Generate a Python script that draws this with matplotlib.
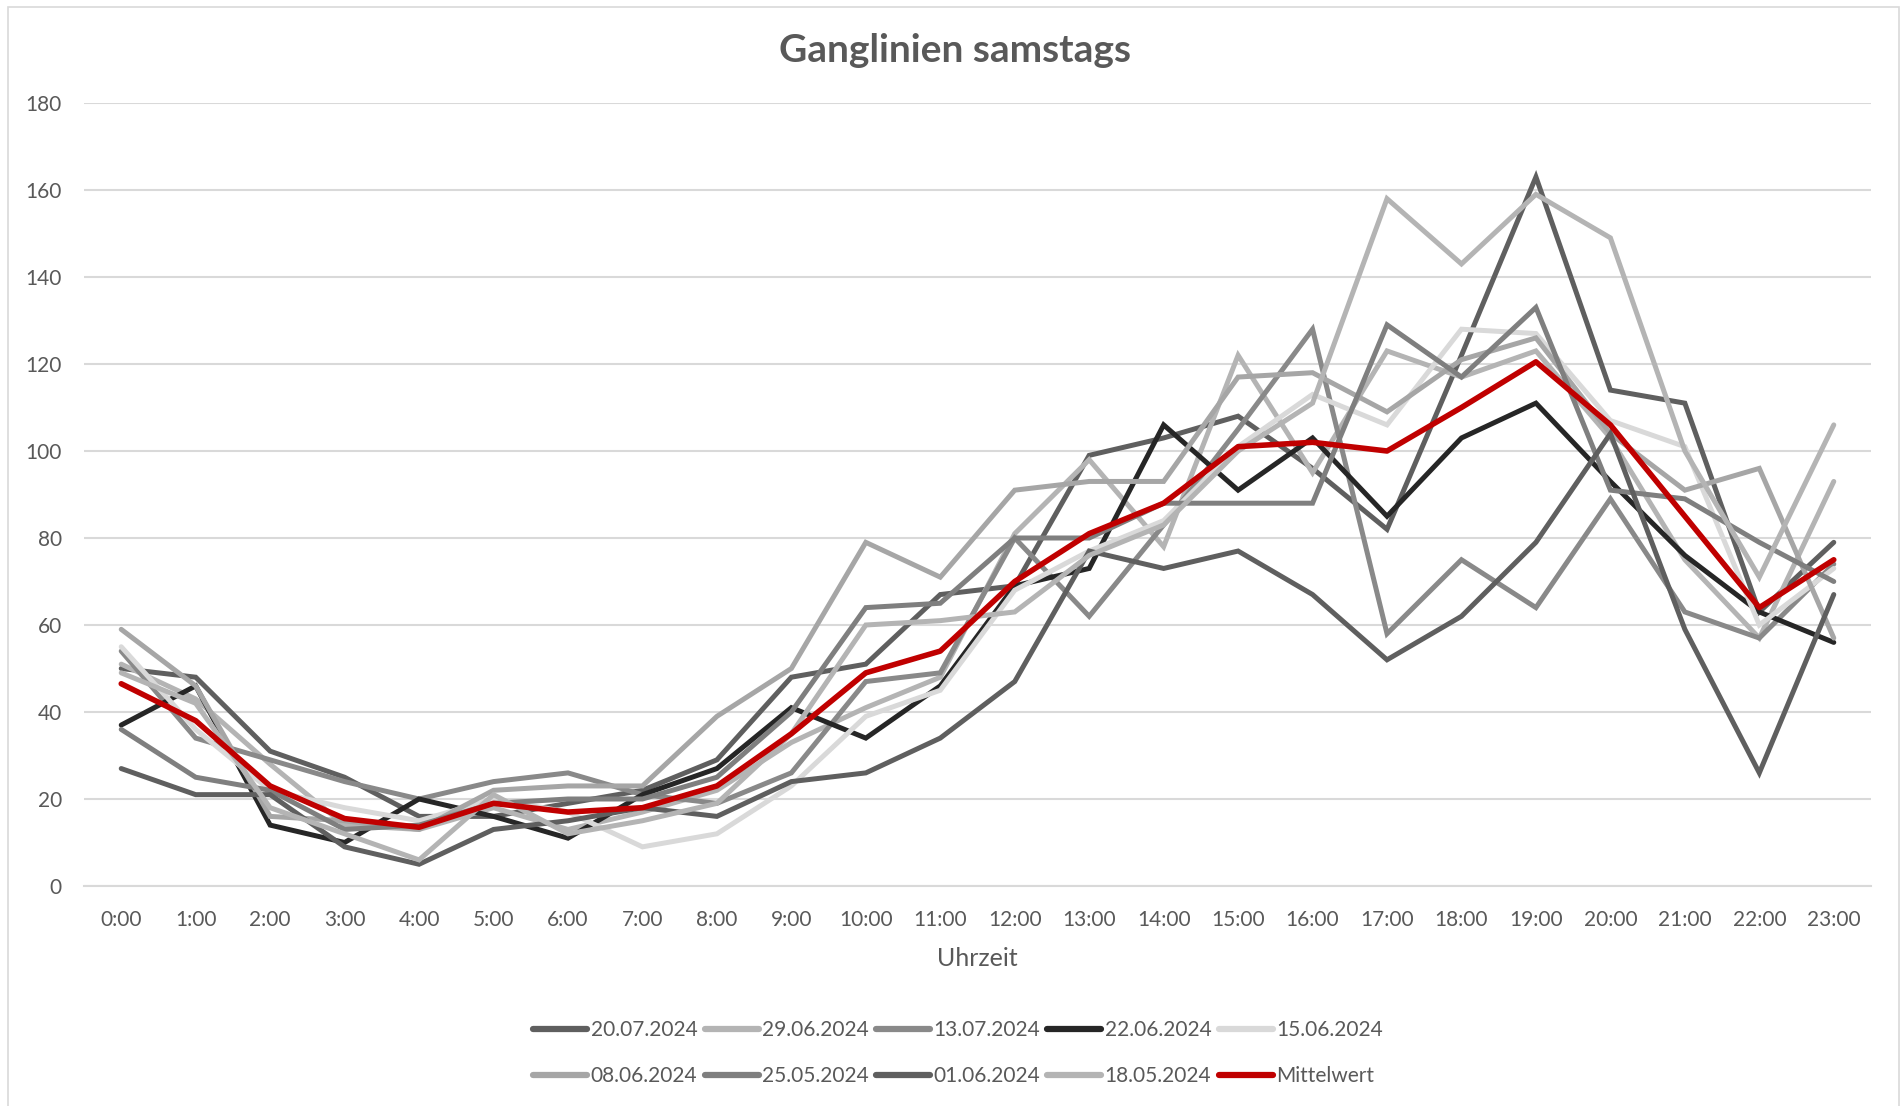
import matplotlib
matplotlib.use("Agg")
import matplotlib.pyplot as plt
from matplotlib.patches import Rectangle

# Stunden 0:00 .. 23:00
hours = [f"{h}:00" for h in range(24)]

s_20_07 = [50, 48, 31, 25, 16, 16, 19, 22, 29, 48, 51, 67, 69, 99, 103, 108, 96, 82, 122, 163, 114, 111, 63, 79]
s_29_06 = [51, 43, 28, 14, 13, 18, 13, 17, 22, 33, 41, 48, 81, 98, 78, 122, 95, 123, 117, 123, 103, 75, 57, 93]
s_13_07 = [54, 34, 29, 24, 20, 24, 26, 21, 19, 26, 47, 49, 80, 62, 83, 105, 128, 58, 75, 64, 89, 63, 57, 74]
s_22_06 = [37, 46, 14, 10, 20, 16, 11, 21, 27, 41, 34, 46, 69, 73, 106, 91, 103, 85, 103, 111, 93, 76, 63, 56]
s_15_06 = [55, 36, 22, 18, 15, 20, 17, 9, 12, 23, 39, 45, 68, 77, 84, 101, 113, 106, 128, 127, 107, 101, 60, 73]
s_08_06 = [59, 46, 16, 15, 13, 22, 23, 23, 39, 50, 79, 71, 91, 93, 93, 117, 118, 109, 121, 126, 104, 91, 96, 57]
s_25_05 = [36, 25, 22, 13, 14, 19, 20, 20, 25, 40, 64, 65, 80, 80, 88, 88, 88, 129, 117, 133, 91, 89, 79, 70]
s_01_06 = [27, 21, 21, 9, 5, 13, 15, 18, 16, 24, 26, 34, 47, 77, 73, 77, 67, 52, 62, 79, 104, 59, 26, 67]
s_18_05 = [49, 42, 18, 12, 6, 21, 12, 15, 19, 35, 60, 61, 63, 76, 83, 100, 111, 158, 143, 159, 149, 100, 71, 106]
mittel = [46.5, 38, 23, 15.5, 13.5, 19, 17, 18, 23, 35, 49, 54, 70, 81, 88, 101, 102, 100, 110, 120.5, 106, 85, 64, 75]

series = [
    ("20.07.2024", s_20_07, "#5f5f5f"),
    ("29.06.2024", s_29_06, "#b4b4b4"),
    ("13.07.2024", s_13_07, "#898989"),
    ("22.06.2024", s_22_06, "#262626"),
    ("15.06.2024", s_15_06, "#d9d9d9"),
    ("08.06.2024", s_08_06, "#a6a6a6"),
    ("25.05.2024", s_25_05, "#7f7f7f"),
    ("01.06.2024", s_01_06, "#5f5f5f"),
    ("18.05.2024", s_18_05, "#b4b4b4"),
]

plt.rcParams['font.family'] = ['Lato', 'DejaVu Sans']
txt = "#595959"

W, H = 1901, 1106
fig = plt.figure(figsize=(W / 100, H / 100), dpi=100)
ax = fig.add_axes([84 / W, 1 - 886 / H, (1871 - 84) / W, (886 - 103) / H])

x = list(range(24))
lines = []
for name, vals, col in series:
    l, = ax.plot(x, vals, color=col, lw=3.6, label=name, solid_capstyle='round', solid_joinstyle='miter')
    lines.append(l)
l, = ax.plot(x, mittel, color="#c00000", lw=4.0, label="Mittelwert", solid_capstyle='round')
lines.append(l)

ax.set_xlim(-0.5, 23.5)
ax.set_ylim(0, 180)
ax.set_yticks(range(0, 181, 20))
ax.set_xticks(x)
ax.set_xticklabels(hours)
ax.grid(axis='y', color="#d9d9d9", lw=1.5)
ax.set_axisbelow(True)
for sp in ['top', 'right', 'left']:
    ax.spines[sp].set_visible(False)
ax.spines['bottom'].set_color("#d9d9d9")
ax.spines['bottom'].set_linewidth(1.5)
ax.tick_params(axis='both', length=0, labelsize=15, colors=txt)
ax.tick_params(axis='y', pad=16)
ax.tick_params(axis='x', pad=17.5)

fig.text(977 / W, 1 - 958 / H, "Uhrzeit", ha='center', va='center', fontsize=18, color=txt)
fig.text(955 / W, 1 - 51 / H, "Ganglinien samstags", ha='center', va='center',
         fontsize=28, fontweight='bold', color=txt)

# legend row-wise: matplotlib fills columns first
order = [0, 5, 1, 6, 2, 7, 3, 8, 4, 9]
hs = [lines[i] for i in order]
leg = fig.legend(hs, [h.get_label() for h in hs], loc='center',
                 bbox_to_anchor=(958 / W, 1 - 1053 / H), ncol=5, frameon=False,
                 fontsize=15, handlelength=2.6, handletextpad=0.15, columnspacing=0.35,
                 labelspacing=1.25, labelcolor=txt)
for h in leg.legend_handles:
    h.set_linewidth(4.5)

fig.patches.append(Rectangle((8 / W, -0.01), (W - 10) / W, 1 - 7 / H + 0.01,
                             transform=fig.transFigure, fill=False, ec="#d9d9d9", lw=1.2))

fig.savefig("out.png", dpi=100)
